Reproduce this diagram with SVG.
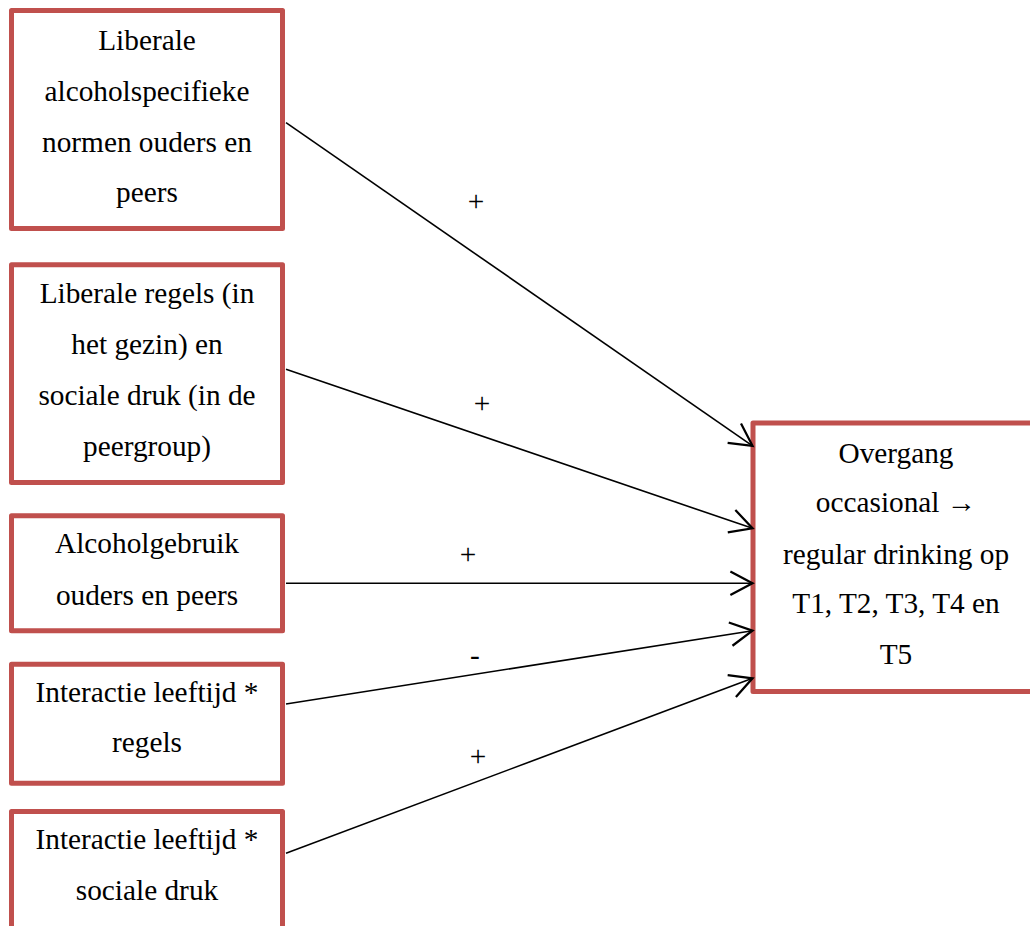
<svg xmlns="http://www.w3.org/2000/svg" width="1030" height="926" viewBox="0 0 1030 926">
<style>
.box{fill:#fff;stroke:#C0504D;stroke-width:5;stroke-linejoin:round}
.t{font-family:"Liberation Serif","Times New Roman",serif;font-size:29.3px;fill:#000;text-anchor:middle}
.c{fill:none;stroke:#000;stroke-width:1.6}
.lbl{font-family:"Liberation Serif","Times New Roman",serif;font-size:29.3px;fill:#000;text-anchor:middle}
</style>
<defs>
<marker id="ah" markerUnits="userSpaceOnUse" orient="auto" refX="0" refY="0" markerWidth="30" markerHeight="30" viewBox="-22 -12 24 24" overflow="visible">
<path d="M-17.7,-9.4 L0,0 L-17.7,9.4" fill="none" stroke="#000" stroke-width="1.8" stroke-linejoin="miter"/>
</marker>
</defs>
<rect width="1030" height="926" fill="#fff"/>
<g id="n1">
<rect class="box" x="11.5" y="10.5" width="271" height="218"/>
<text class="t" x="147" y="50">Liberale</text>
<text class="t" x="147" y="101">alcoholspecifieke</text>
<text class="t" x="147" y="152">normen ouders en</text>
<text class="t" x="147" y="202">peers</text>
</g>
<g id="n2">
<rect class="box" x="11.5" y="264.8" width="271" height="217.7"/>
<text class="t" x="147" y="303">Liberale regels (in</text>
<text class="t" x="147" y="354">het gezin) en</text>
<text class="t" x="147" y="405">sociale druk (in de</text>
<text class="t" x="147" y="456">peergroup)</text>
</g>
<g id="n3">
<rect class="box" x="11.5" y="515.8" width="271" height="115"/>
<text class="t" x="147" y="553">Alcoholgebruik</text>
<text class="t" x="147" y="605">ouders en peers</text>
</g>
<g id="n4">
<rect class="box" x="11.5" y="664.2" width="271" height="119"/>
<text class="t" x="147" y="702">Interactie leeftijd *</text>
<text class="t" x="147" y="752">regels</text>
</g>
<g id="n5">
<rect class="box" x="11.5" y="811.5" width="271" height="140"/>
<text class="t" x="147" y="849">Interactie leeftijd *</text>
<text class="t" x="147" y="900">sociale druk</text>
</g>
<g id="target">
<rect class="box" x="753" y="423" width="300" height="268.5"/>
<text class="t" x="896" y="463">Overgang</text>
<text class="t" x="896" y="512">occasional →</text>
<text class="t" x="896" y="564">regular drinking op</text>
<text class="t" x="896" y="613">T1, T2, T3, T4 en</text>
<text class="t" x="896" y="664">T5</text>
</g>
<g id="connectors">
<line class="c" x1="286" y1="122.7" x2="752.5" y2="445.8" marker-end="url(#ah)"/>
<line class="c" x1="286" y1="369.3" x2="752.5" y2="528.3" marker-end="url(#ah)"/>
<line class="c" x1="286" y1="583.3" x2="752.5" y2="583.3" marker-end="url(#ah)"/>
<line class="c" x1="286" y1="704" x2="752.5" y2="630.7" marker-end="url(#ah)"/>
<line class="c" x1="286" y1="853.3" x2="752.5" y2="678.3" marker-end="url(#ah)"/>
<text class="lbl" x="476" y="210.5">+</text>
<text class="lbl" x="482" y="412.5">+</text>
<text class="lbl" x="468" y="564">+</text>
<text class="lbl" x="475" y="665">-</text>
<text class="lbl" x="478" y="766">+</text>
</g>
</svg>
